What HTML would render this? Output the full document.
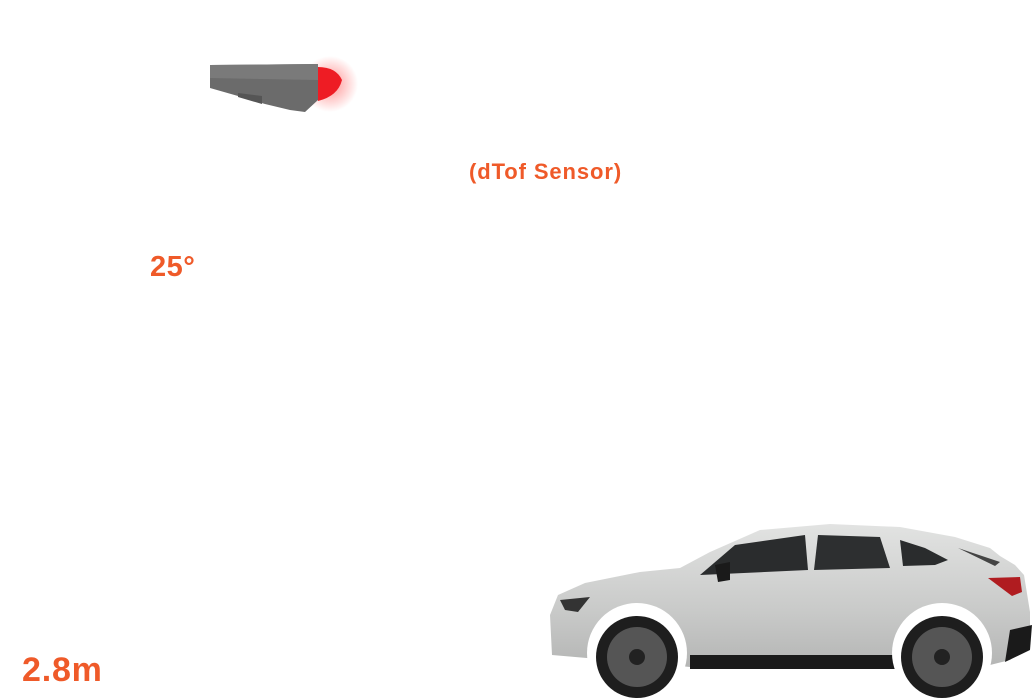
<!DOCTYPE html>
<html><head><style>
html,body{margin:0;padding:0;background:#fff;width:1034px;height:698px;overflow:hidden;position:relative;font-family:"Liberation Sans",sans-serif}
.t{position:absolute;color:#ef5a29;font-weight:bold;white-space:nowrap}
</style></head><body>
<svg width="1034" height="698" style="position:absolute;left:0;top:0">
<defs>
<radialGradient id="glow"><stop offset="0" stop-color="#ff2020" stop-opacity=".5"/><stop offset="1" stop-color="#ff2020" stop-opacity="0"/></radialGradient>
<linearGradient id="body" x1="0" y1="0" x2="0" y2="1"><stop offset="0" stop-color="#e2e3e2"/><stop offset=".6" stop-color="#c9cac9"/><stop offset="1" stop-color="#b4b5b4"/></linearGradient>
</defs>
<!-- sensor -->
<ellipse cx="330" cy="84" rx="28" ry="28" fill="url(#glow)"/>
<polygon points="210,65 318,64 318,100 305,112 290,110 265,104 238,96 210,88" fill="#6b6b6b"/>
<polygon points="210,65 318,64 318,80 210,78" fill="#7a7a7a"/>
<polygon points="238,93 262,96 262,104 238,97" fill="#555"/>
<path d="M318,67 Q336,67 342,80 Q338,96 318,101 Z" fill="#ee1c24"/>
<!-- car -->
<path d="M552,655 L550,615 L558,595 L585,583 L640,572 L680,568 L710,552 L760,530 L830,524 L900,527 L955,537 L990,548 L1000,556 L1015,565 L1024,575 L1030,612 L1030,645 L1010,660 L990,665 L880,668 L700,668 L680,666 Z" fill="url(#body)"/>
<path d="M700,575 L735,545 L805,535 L808,570 Z" fill="#2a2c2d"/>
<path d="M818,535 L880,537 L890,568 L814,570 Z" fill="#2d2f30"/>
<path d="M900,540 L925,548 L948,560 L935,565 L903,566 Z" fill="#2a2c2d"/>
<path d="M958,548 L1000,562 L995,566 Z" fill="#444"/>
<path d="M988,578 L1020,577 L1022,592 L1012,596 Z" fill="#b01c20"/>
<path d="M560,600 L590,597 L578,612 L565,610 Z" fill="#333"/>
<rect x="690" y="655" width="215" height="14" fill="#1a1a1a"/>
<path d="M1010,630 L1032,625 L1030,650 L1005,662 Z" fill="#1a1a1a"/>
<path d="M715,565 L730,562 L730,580 L718,582 Z" fill="#1a1a1a"/>
<circle cx="637" cy="653" r="50" fill="#fff"/>
<circle cx="942" cy="653" r="50" fill="#fff"/>
<circle cx="637" cy="657" r="41" fill="#1e1e1e"/>
<circle cx="637" cy="657" r="30" fill="#555"/>
<circle cx="637" cy="657" r="8" fill="#222"/>
<circle cx="942" cy="657" r="41" fill="#1e1e1e"/>
<circle cx="942" cy="657" r="30" fill="#555"/>
<circle cx="942" cy="657" r="8" fill="#222"/>
</svg>
<div class="t" style="left:469px;top:159px;font-size:22px;letter-spacing:0.9px">(dTof Sensor)</div>
<div class="t" style="left:150px;top:251px;font-size:29px;letter-spacing:0.5px">25°</div>
<div class="t" style="left:22px;top:651px;font-size:34px;letter-spacing:0.8px">2.8m</div>
</body></html>
